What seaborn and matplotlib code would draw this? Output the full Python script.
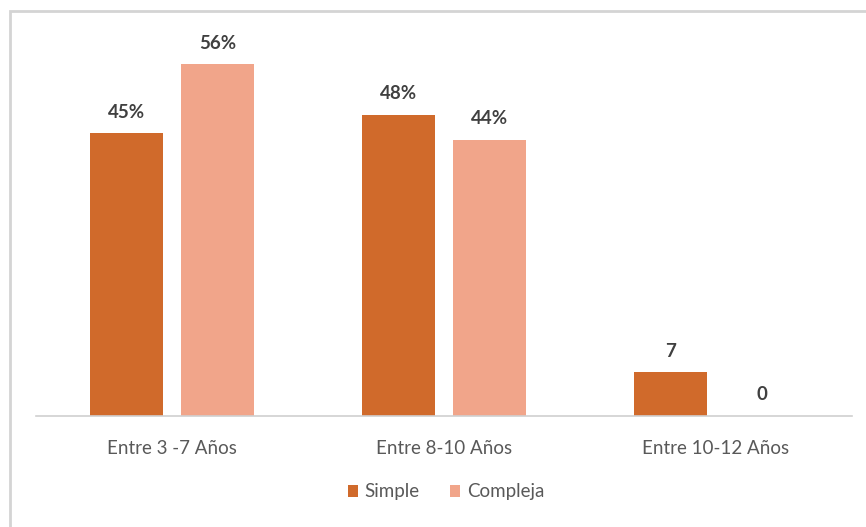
import matplotlib
matplotlib.use("Agg")
import matplotlib.pyplot as plt
from matplotlib.patches import Rectangle
import seaborn as sns
import pandas as pd

# Age bands, series and values
categories = ["Entre 3 -7 Años", "Entre 8-10 Años", "Entre 10-12 Años"]
series = ["Simple", "Compleja"]
simple_values = [45, 48, 7]
compleja_values = [56, 44, 0]
simple_labels = ["45%", "48%", "7"]
compleja_labels = ["56%", "44%", "0"]

colors = {"Simple": "#D06A2B", "Compleja": "#F1A58A"}

df = pd.DataFrame({
    "grupo": categories * 2,
    "tipo": [series[0]] * 3 + [series[1]] * 3,
    "valor": simple_values + compleja_values,
})

sns.set_theme(style="white")
plt.rcParams["font.family"] = ["Lato", "DejaVu Sans"]

W, H = 866, 527
fig = plt.figure(figsize=(W / 100, H / 100), dpi=100)
fig.patch.set_facecolor("white")

# light frame around the chart area
fig.add_artist(Rectangle((10 / W, -0.05), 1.1, 1 - 11 / H + 0.05,
                         transform=fig.transFigure, fill=False,
                         edgecolor="#d4d4d4", linewidth=2.0))

ax = fig.add_axes([36 / W, 1 - 416 / H, (852 - 36) / W, (416 - 33) / H])
sns.barplot(data=df, x="grupo", y="valor", hue="tipo", hue_order=series,
            order=categories, palette=colors, width=0.67, gap=0.2,
            saturation=1, linewidth=0, edgecolor="none", ax=ax, legend=True)

ax.set_ylim(0, 61)
ax.set_xlim(-0.5, 2.5)
ax.set_xlabel("")
ax.set_ylabel("")
ax.set_yticks([])
for side in ["top", "right", "left"]:
    ax.spines[side].set_visible(False)
ax.spines["bottom"].set_color("#d0d0d0")
ax.spines["bottom"].set_linewidth(1.2)
ax.tick_params(axis="x", length=0, pad=17, labelsize=13.5, labelcolor="#595959")

for cont, labs in zip(ax.containers, [simple_labels, compleja_labels]):
    ax.bar_label(cont, labels=labs, padding=9, fontsize=13.5,
                 fontweight="bold", color="#404040")

handles, labels = ax.get_legend_handles_labels()
ax.legend_.remove()
fig.legend(handles, labels, loc="center", bbox_to_anchor=(446 / W, 1 - 492 / H),
           ncol=2, frameon=False, fontsize=13.5, handlelength=0.55,
           handleheight=0.55, handletextpad=0.35, columnspacing=1.6,
           labelcolor="#595959")

fig.savefig("out.png", dpi=100, facecolor="white")
